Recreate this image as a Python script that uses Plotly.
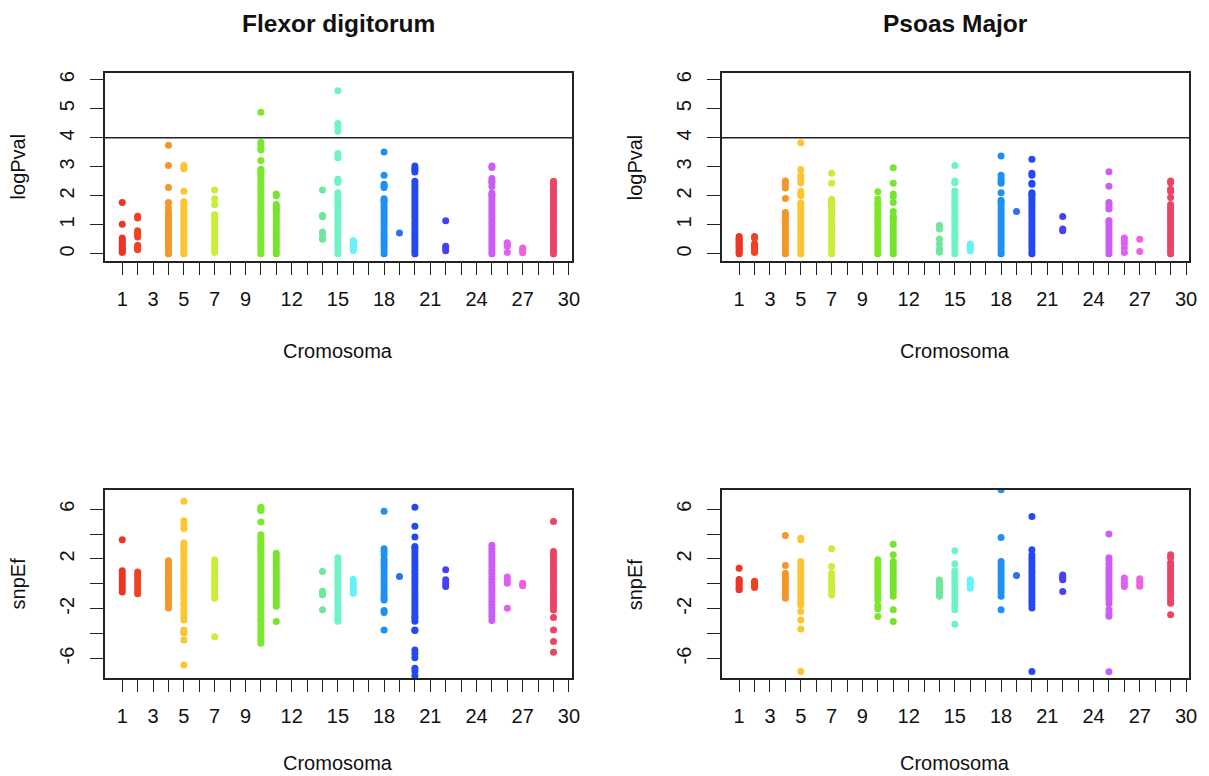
import plotly.graph_objects as go

# ---------------- data ----------------
chromosomes = [1, 2, 4, 5, 7, 10, 11, 14, 15, 16, 18, 19, 20, 22, 25, 26, 27, 29]
chrom_colors = ['#EE3524', '#EF4324', '#F5962A', '#FDC530', '#C8EE3A', '#7CE82C',
                '#74E52C', '#6DE89C', '#70F2C8', '#66F2F7', '#1E90F5', '#2A70F5',
                '#2448F2', '#4640F5', '#CC5CF5', '#E060F2', '#F060E0', '#EC4464']

x_tick_values = list(range(1, 31))
x_tick_labels = ['1', '', '3', '', '5', '', '7', '', '9', '', '', '12', '', '', '15',
                 '', '', '18', '', '', '21', '', '', '24', '', '', '27', '', '', '30']
logp_tick_values = [0, 1, 2, 3, 4, 5, 6]
logp_tick_labels = ['0', '1', '2', '3', '4', '5', '6']
snp_tick_values = [-6, -4, -2, 0, 2, 4, 6]
snp_tick_labels = ['-6', '', '-2', '', '2', '', '6']
threshold = 4

panel_titles = ['Flexor digitorum', 'Psoas Major']

# Flexor digitorum, logPval (one list per chromosome, same order as `chromosomes`)
fd_logp = [
    [1.77, 1.02, 0.55, 0.47, 0.4, 0.33, 0.27, 0.2, 0.14, 0.08, 0.05],
    [1.3, 1.24, 0.8, 0.72, 0.65, 0.58, 0.3, 0.24, 0.18, 0.14],
    [3.74, 3.05, 2.29, 1.77, 1.6, 1.45, 1.35, 1.3, 1.2, 1.1, 1.0, 0.9, 0.8, 0.7, 0.6, 0.5, 0.4, 0.3, 0.2, 0.1, 0.05, 0.0],
    [3.05, 2.98, 2.93, 2.16, 1.8, 1.7, 1.6, 1.5, 1.4, 1.3, 1.2, 1.1, 1.0, 0.9, 0.8, 0.7, 0.6, 0.5, 0.4, 0.3, 0.2, 0.1, 0.03, 0.0],
    [2.2, 1.9, 1.7, 1.35, 1.3, 1.2, 1.1, 1.0, 0.9, 0.8, 0.7, 0.6, 0.5, 0.4, 0.3, 0.2, 0.1, 0.05],
    [4.88, 3.85, 3.75, 3.62, 3.58, 3.22, 2.92, 2.85, 2.78, 2.7, 2.6, 2.5, 2.4, 2.3, 2.2, 2.1, 2.0, 1.9, 1.8, 1.7, 1.6, 1.5,
     1.4, 1.3, 1.2, 1.1, 1.0, 0.9, 0.8, 0.7, 0.6, 0.5, 0.4, 0.3, 0.2, 0.1, 0.0],
    [2.06, 2.0, 1.7, 1.62, 1.55, 1.5, 1.4, 1.3, 1.2, 1.1, 1.0, 0.9, 0.8, 0.7, 0.6, 0.5, 0.4, 0.3, 0.2, 0.1, 0.0],
    [2.2, 1.32, 1.28, 0.75, 0.7, 0.55, 0.5],
    [5.62, 4.49, 4.4, 4.23, 3.46, 3.35, 3.31, 2.57, 2.5, 2.46, 2.11, 2.0, 1.94, 1.85, 1.8, 1.7, 1.6, 1.5, 1.4, 1.3, 1.2,
     1.1, 1.0, 0.9, 0.8, 0.7, 0.6, 0.5, 0.4, 0.3, 0.2, 0.1, 0.0],
    [0.45, 0.4, 0.35, 0.3, 0.25, 0.2, 0.15, 0.12],
    [3.51, 2.71, 2.4, 2.35, 2.29, 1.9, 1.85, 1.8, 1.7, 1.6, 1.5, 1.4, 1.3, 1.2, 1.1, 1.0, 0.9, 0.8, 0.7, 0.6, 0.5, 0.4,
     0.3, 0.2, 0.1, 0.0],
    [0.72],
    [3.03, 2.95, 2.9, 2.82, 2.5, 2.4, 2.3, 2.2, 2.1, 2.0, 1.9, 1.8, 1.7, 1.6, 1.5, 1.4, 1.3, 1.2, 1.1, 1.0, 0.9, 0.8, 0.7,
     0.6, 0.5, 0.4, 0.3, 0.2, 0.1, 0.0],
    [1.14, 0.26, 0.2, 0.11],
    [3.03, 2.98, 2.6, 2.5, 2.45, 2.32, 2.1, 2.05, 2.0, 1.9, 1.8, 1.7, 1.6, 1.5, 1.4, 1.3, 1.2, 1.1, 1.0, 0.9, 0.8, 0.7,
     0.6, 0.5, 0.4, 0.3, 0.2, 0.1, 0.0],
    [0.38, 0.32, 0.25, 0.05],
    [0.2, 0.15, 0.08, 0.04],
    [2.5, 2.4, 2.3, 2.2, 2.1, 2.0, 1.9, 1.8, 1.7, 1.6, 1.5, 1.4, 1.3, 1.2, 1.1, 1.0, 0.9, 0.8, 0.7, 0.6, 0.5, 0.4, 0.3,
     0.2, 0.1, 0.0],
]

# Psoas Major, logPval
pm_logp = [
    [0.6, 0.55, 0.5, 0.45, 0.4, 0.35, 0.3, 0.25, 0.2, 0.15, 0.1, 0.05, 0.0],
    [0.6, 0.55, 0.35, 0.3, 0.25, 0.2, 0.15, 0.1, 0.05],
    [2.51, 2.45, 2.38, 2.27, 1.91, 1.43, 1.38, 1.3, 1.2, 1.1, 1.0, 0.9, 0.8, 0.7, 0.6, 0.5, 0.4, 0.3, 0.2, 0.1, 0.0],
    [3.83, 2.91, 2.69, 2.57, 2.45, 2.15, 2.06, 2.0, 1.75, 1.7, 1.6, 1.5, 1.4, 1.3, 1.2, 1.1, 1.0, 0.9, 0.8, 0.7, 0.6,
     0.5, 0.4, 0.3, 0.2, 0.1, 0.0],
    [2.78, 2.43, 1.88, 1.8, 1.75, 1.7, 1.6, 1.5, 1.4, 1.3, 1.2, 1.1, 1.0, 0.9, 0.8, 0.7, 0.6, 0.5, 0.4, 0.3, 0.2, 0.1, 0.0],
    [2.14, 1.89, 1.75, 1.7, 1.6, 1.5, 1.4, 1.3, 1.2, 1.1, 1.0, 0.9, 0.8, 0.7, 0.6, 0.5, 0.4, 0.3, 0.2, 0.1, 0.0],
    [2.97, 2.43, 2.06, 1.98, 1.77, 1.46, 1.3, 1.25, 1.2, 1.1, 1.0, 0.9, 0.8, 0.7, 0.6, 0.5, 0.4, 0.3, 0.2, 0.1, 0.0],
    [0.99, 0.86, 0.51, 0.34, 0.17, 0.06],
    [3.05, 2.51, 2.45, 2.17, 2.1, 2.0, 1.9, 1.8, 1.7, 1.6, 1.5, 1.4, 1.3, 1.2, 1.1, 1.0, 0.9, 0.8, 0.7, 0.6, 0.5, 0.4,
     0.3, 0.2, 0.1, 0.0],
    [0.34, 0.28, 0.22, 0.16, 0.11],
    [3.37, 2.71, 2.6, 2.5, 2.43, 2.11, 1.85, 1.8, 1.7, 1.6, 1.5, 1.4, 1.3, 1.2, 1.1, 1.0, 0.9, 0.8, 0.7, 0.6, 0.5, 0.4,
     0.3, 0.2, 0.1, 0.0],
    [1.46],
    [3.26, 2.78, 2.71, 2.43, 2.4, 2.11, 2.05, 2.0, 1.9, 1.8, 1.7, 1.6, 1.5, 1.4, 1.3, 1.2, 1.1, 1.0, 0.9, 0.8, 0.7, 0.6,
     0.5, 0.4, 0.3, 0.2, 0.1, 0.0],
    [1.29, 0.86, 0.8],
    [2.83, 2.33, 1.77, 1.7, 1.6, 1.55, 1.15, 1.1, 1.0, 0.9, 0.8, 0.7, 0.6, 0.5, 0.4, 0.3, 0.2, 0.1, 0.0],
    [0.55, 0.45, 0.35, 0.2, 0.05],
    [0.5, 0.08],
    [2.51, 2.45, 2.23, 2.15, 1.94, 1.7, 1.6, 1.5, 1.4, 1.3, 1.2, 1.1, 1.0, 0.9, 0.8, 0.7, 0.6, 0.5, 0.4, 0.3, 0.2, 0.1, 0.0],
]

# Flexor digitorum, snpEf
fd_snp = [
    [3.54, 1.05, 0.8, 0.55, 0.3, 0.05, -0.2, -0.45, -0.65],
    [0.95, 0.7, 0.45, 0.2, -0.05, -0.3, -0.55, -0.8],
    [1.85, 1.6, 1.35, 1.1, 0.85, 0.6, 0.35, 0.1, -0.15, -0.4, -0.65, -0.9, -1.15, -1.4, -1.65, -1.95],
    [6.63, 5.07, 4.75, 4.45, 3.28, 3.0, 2.85, 2.6, 2.35, 2.1, 1.85, 1.6, 1.35, 1.1, 0.85, 0.6, 0.35, 0.1, -0.15, -0.4,
     -0.65, -0.9, -1.15, -1.45, -1.7, -2.09, -2.35, -2.63, -2.9, -3.7, -3.85, -3.95, -4.51, -6.52],
    [1.93, 1.75, 1.55, 1.3, 1.05, 0.8, 0.55, 0.3, 0.05, -0.2, -0.45, -0.7, -0.95, -1.15, -4.24],
    [6.15, 6.05, 5.95, 5.9, 4.97, 3.95, 3.7, 3.5, 3.3, 3.1, 2.9, 2.7, 2.5, 2.35, 2.1, 1.85, 1.6, 1.35, 1.1, 0.85, 0.6,
     0.35, 0.1, -0.15, -0.4, -0.65, -0.9, -1.15, -1.4, -1.65, -1.9, -2.15, -2.4, -2.65, -2.9, -3.0, -3.3, -3.6, -3.9,
     -4.2, -4.5, -4.78],
    [2.45, 2.2, 1.95, 1.7, 1.45, 1.2, 0.95, 0.7, 0.45, 0.2, -0.05, -0.3, -0.55, -0.8, -1.05, -1.3, -1.55, -1.8, -3.03],
    [0.99, -0.6, -0.75, -0.88, -2.09],
    [2.1, 1.85, 1.6, 1.35, 1.1, 0.85, 0.6, 0.35, 0.1, -0.15, -0.4, -0.65, -0.9, -1.15, -1.4, -1.65, -1.9, -2.15, -2.4,
     -2.65, -2.85, -3.0],
    [0.35, 0.1, -0.15, -0.35, -0.55, -0.75],
    [5.83, 2.82, 2.6, 2.33, 2.0, 1.8, 1.55, 1.3, 1.05, 0.8, 0.55, 0.3, 0.05, -0.2, -0.45, -0.7, -0.95, -1.15, -1.3,
     -2.15, -2.3, -3.7],
    [0.59],
    [6.15, 4.62, 3.76, 3.0, 2.85, 2.6, 2.35, 2.1, 1.85, 1.6, 1.35, 1.1, 0.85, 0.6, 0.35, 0.1, -0.15, -0.4, -0.65, -0.9,
     -1.15, -1.4, -1.65, -1.9, -2.15, -2.4, -2.6, -2.75, -3.0, -3.7, -3.75, -5.31, -5.6, -5.93, -6.79, -7.0, -7.38],
    [1.13, 0.32, 0.05, -0.21],
    [3.1, 2.85, 2.6, 2.35, 2.1, 1.85, 1.6, 1.35, 1.1, 0.85, 0.6, 0.35, 0.1, -0.15, -0.4, -0.65, -0.9, -1.15, -1.4,
     -1.65, -1.9, -2.15, -2.4, -2.65, -2.95],
    [0.54, 0.3, 0.05, -1.96],
    [0.05, -0.08, -0.15],
    [5.0, 2.6, 2.35, 2.1, 1.85, 1.6, 1.35, 1.1, 0.85, 0.6, 0.35, 0.1, -0.15, -0.4, -0.65, -0.9, -1.15, -1.4, -1.6,
     -1.82, -2.1, -2.71, -3.7, -4.64, -5.49],
]

# Psoas Major, snpEf
pm_snp = [
    [1.26, 0.35, 0.2, 0.05, -0.1, -0.25, -0.4, -0.48],
    [0.2, 0.1, 0.0, -0.1, -0.2, -0.3],
    [3.89, 1.47, 0.86, 0.6, 0.35, 0.1, -0.15, -0.4, -0.65, -0.9, -1.15],
    [3.67, 3.54, 1.8, 1.55, 1.3, 1.05, 0.8, 0.55, 0.3, 0.05, -0.2, -0.45, -0.7, -0.95, -1.2, -1.45, -1.7, -2.23,
     -2.9, -3.62, -7.05],
    [2.82, 1.39, 0.86, 0.6, 0.35, 0.1, -0.15, -0.4, -0.65, -0.9],
    [1.93, 1.7, 1.45, 1.2, 0.95, 0.7, 0.45, 0.2, -0.05, -0.3, -0.55, -0.8, -1.05, -1.3, -1.74, -2.0, -2.63],
    [3.19, 2.33, 1.8, 1.53, 1.3, 1.05, 0.8, 0.55, 0.3, 0.05, -0.2, -0.45, -0.7, -1.0, -2.09, -3.03],
    [0.3, 0.1, -0.1, -0.3, -0.5, -0.7, -0.9, -1.0],
    [2.65, 1.61, 1.05, 0.86, 0.6, 0.35, 0.1, -0.15, -0.4, -0.65, -0.9, -1.2, -1.56, -1.8, -2.09, -3.24],
    [0.32, 0.15, 0.0, -0.15, -0.35],
    [7.56, 3.73, 1.8, 1.53, 1.3, 1.05, 0.8, 0.55, 0.3, 0.05, -0.2, -0.45, -0.7, -1.0, -2.09],
    [0.67],
    [5.42, 2.73, 2.33, 2.1, 1.85, 1.6, 1.35, 1.1, 0.85, 0.6, 0.35, 0.1, -0.15, -0.4, -0.65, -0.9, -1.15, -1.4, -1.65,
     -1.95, -7.05],
    [0.72, 0.55, 0.4, 0.32, -0.62],
    [4.0, 2.1, 1.9, 1.6, 1.3, 1.1, 0.85, 0.6, 0.35, 0.1, -0.15, -0.4, -0.65, -0.9, -1.1, -1.3, -1.6, -2.09, -2.4,
     -2.6, -7.07],
    [0.46, 0.25, 0.05, -0.21],
    [0.4, 0.2, 0.0, -0.2],
    [2.33, 2.1, 1.7, 1.45, 1.2, 0.95, 0.7, 0.45, 0.2, -0.05, -0.3, -0.55, -0.8, -1.05, -1.3, -1.55, -2.49],
]

# ---------------- figure ----------------
W, H = 1209, 776
FONT = "Liberation Sans, Arial, Helvetica, sans-serif"
INK = '#111111'
LINE = '#222222'

# panel boxes in pixels: (left, right, top, bottom)
boxes = [(105.7, 575.8, 71, 259.5), (726.7, 1197, 71, 259.5),
         (105.7, 575.8, 489, 677.7), (726.7, 1197, 489, 677.7)]
panels = [fd_logp, pm_logp, fd_snp, pm_snp]

fig = go.Figure()
layout = dict(width=W, height=H, margin=dict(l=0, r=0, t=0, b=0),
              paper_bgcolor='white', plot_bgcolor='white', showlegend=False,
              font=dict(family=FONT, size=20, color=INK))

annotations = []
shapes = []
for i, (box, data) in enumerate(zip(boxes, panels)):
    l, r, t, b = box
    n = '' if i == 0 else str(i + 1)
    xa, ya = 'x' + n, 'y' + n
    for chrom, col, vals in zip(chromosomes, chrom_colors, data):
        fig.add_trace(go.Scatter(x=[chrom] * len(vals), y=vals, mode='markers', xaxis=xa, yaxis=ya,
                                 marker=dict(color=col, size=7, line=dict(width=0)),
                                 hoverinfo='skip'))
    top_row = i < 2
    layout['xaxis' + n] = dict(domain=[l / W, r / W], anchor=ya, range=[-0.12, 30.2],
                               tickmode='array', tickvals=x_tick_values, ticktext=x_tick_labels,
                               ticks='outside', ticklen=12, tickwidth=1.4, tickcolor=LINE,
                               showline=True, mirror=True, linecolor=LINE, linewidth=1.6,
                               showgrid=False, zeroline=False, ticklabelstandoff=7,
                               tickfont=dict(size=20, color=INK, family=FONT))
    layout['yaxis' + n] = dict(domain=[1 - b / H, 1 - t / H], anchor=xa,
                               range=[-0.24, 6.24] if top_row else [-7.56, 7.56],
                               tickmode='array',
                               tickvals=logp_tick_values if top_row else snp_tick_values,
                               ticktext=logp_tick_labels if top_row else snp_tick_labels,
                               tickangle=-90,
                               ticks='outside', ticklen=13, tickwidth=1.4, tickcolor=LINE,
                               showline=True, mirror=True, linecolor=LINE, linewidth=1.6,
                               showgrid=False, zeroline=False, ticklabelstandoff=8,
                               tickfont=dict(size=20, color=INK, family=FONT))
    cx = (l + r) / 2 / W
    # x-axis title
    annotations.append(dict(text='Cromosoma', x=cx, y=1 - (b + (90 if top_row else 85)) / H,
                            xref='paper', yref='paper',
                            showarrow=False, xanchor='center', yanchor='middle',
                            font=dict(size=20, color=INK, family=FONT)))
    # y-axis title
    annotations.append(dict(text='logPval' if top_row else 'snpEf', x=(l - 88) / W, y=1 - (t + b) / 2 / H,
                            xref='paper', yref='paper', showarrow=False, textangle=-90,
                            xanchor='center', yanchor='middle',
                            font=dict(size=20, color=INK, family=FONT)))
    if top_row:
        annotations.append(dict(text='<b>' + panel_titles[i] + '</b>', x=cx, y=1 - 22 / H,
                                xref='paper', yref='paper', showarrow=False,
                                xanchor='center', yanchor='middle',
                                font=dict(size=24.5, color=INK, family=FONT)))
        shapes.append(dict(type='line', xref=xa + ' domain', yref=ya, x0=0, x1=1,
                           y0=threshold, y1=threshold, line=dict(color=LINE, width=1.6)))

layout['annotations'] = annotations
layout['shapes'] = shapes
fig.update_layout(**layout)
fig.write_html("out.html", config={'displayModeBar': False},
               post_script="document.body.style.margin='0';document.body.style.overflow='hidden';")
